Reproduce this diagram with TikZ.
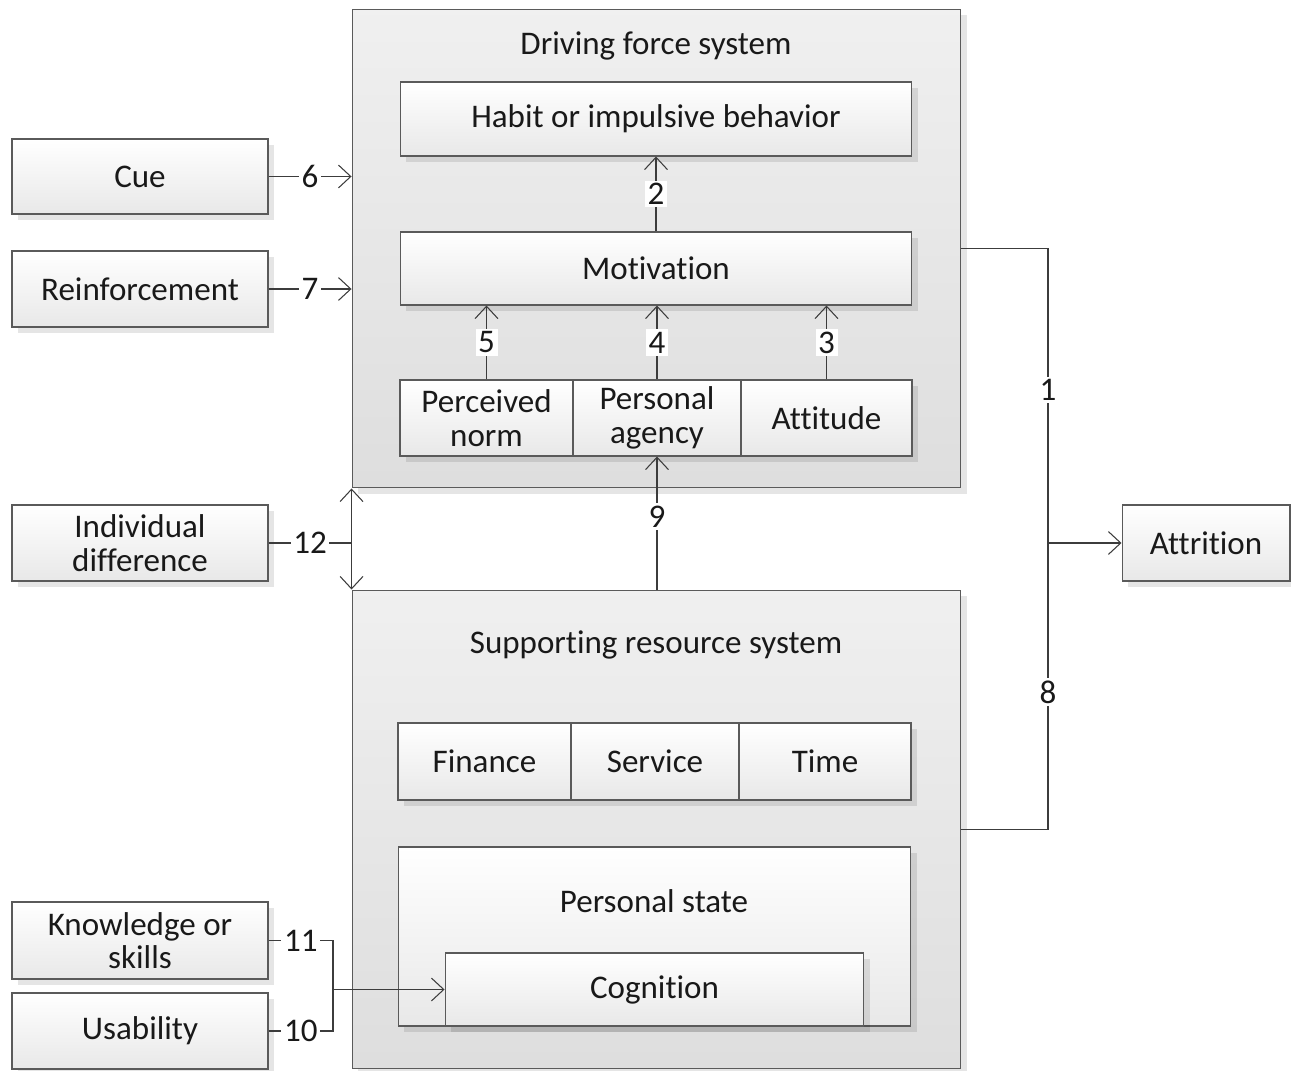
\documentclass[tikz,border=0pt]{standalone}
\usepackage{fontspec}
\setmainfont{Carlito}[Ligatures=NoCommon]
\usetikzlibrary{arrows.meta,shadows}
\definecolor{edgec}{HTML}{5A5A5A}
\definecolor{linec}{HTML}{3C3C3C}
\tikzset{
  base/.style={draw=edgec, line width=0.6pt, inner sep=0pt, align=center, text=black!90,
    font=\fontsize{18.8}{19}\selectfont,
    drop shadow={shadow xshift=3.4pt, shadow yshift=-3.4pt, fill=black, opacity=.1}},
  box/.style={base, top color=white, bottom color=black!9},
  sysbox/.style={base, top color=black!6, bottom color=black!13},
  title/.style={inner sep=0pt, text=black!90, font=\fontsize{18.8}{19}\selectfont},
  conn/.style={draw=linec, line width=0.6pt},
  arr/.style={conn, -{Straight Barb[length=7pt,width=13pt]}},
  darr/.style={conn, {Straight Barb[length=7pt,width=13pt]}-{Straight Barb[length=7pt,width=13pt]}},
  num/.style={fill=white, inner sep=1.5pt, text=black!90, font=\fontsize{18.8}{19}\selectfont}
}
\begin{document}
\begin{tikzpicture}[x=0.02cm, y=-0.02cm]
  \useasboundingbox (0,0) rectangle (1291,1071);

  % the two systems
  \node[sysbox, minimum width=12.18cm, minimum height=9.58cm] (df) at (656.5,248.5) {};
  \node[title] at (656,46) {Driving force system};
  \node[sysbox, minimum width=12.18cm, minimum height=9.58cm] (sr) at (656.5,829.5) {};
  \node[title] at (656,645) {Supporting resource system};

  % driving force system
  \node[box, minimum width=10.24cm, minimum height=1.48cm] (habit) at (656,119) {Habit or impulsive behavior};
  \node[box, minimum width=10.24cm, minimum height=1.46cm] (motiv) at (656,268.5) {Motivation};
  \node[box, minimum width=3.46cm, minimum height=1.52cm] (pnorm) at (486.5,418) {Perceived\\norm};
  \node[box, minimum width=3.36cm, minimum height=1.52cm] (agency) at (657,418) {Personal\\agency};
  \node[box, minimum width=3.42cm, minimum height=1.52cm] (attit) at (826.5,418) {Attitude};

  % supporting resource system
  \node[box, minimum width=3.46cm, minimum height=1.54cm] (finance) at (484.5,761.5) {Finance};
  \node[box, minimum width=3.36cm, minimum height=1.54cm] (service) at (655,761.5) {Service};
  \node[box, minimum width=3.44cm, minimum height=1.54cm] (time) at (825,761.5) {Time};
  \node[box, minimum width=10.26cm, minimum height=3.58cm] (pstate) at (654.5,936.5) {};
  \node[title] at (654,901) {Personal state};
  \node[box, minimum width=8.38cm, minimum height=1.46cm] (cogn) at (654.5,989.5) {Cognition};

  % outer factors
  \node[box, minimum width=5.12cm, minimum height=1.5cm] (cue) at (140,176.5) {Cue};
  \node[box, minimum width=5.12cm, minimum height=1.52cm] (reinf) at (140,289) {Reinforcement};
  \node[box, minimum width=5.12cm, minimum height=1.52cm] (indiv) at (140,543) {Individual\\difference};
  \node[box, minimum width=5.12cm, minimum height=1.54cm] (know) at (140,940.5) {Knowledge or\\skills};
  \node[box, minimum width=5.12cm, minimum height=1.52cm] (usab) at (140,1031) {Usability};
  \node[box, minimum width=3.36cm, minimum height=1.52cm] (attr) at (1206,543) {Attrition};

  \coordinate (jr) at (1048,543);
  \coordinate (jl) at (333,989.5);

  % connectors
  \draw[arr] (motiv) -- node[num]{2} (habit);
  \draw[arr] (pnorm) -- node[num]{5} (pnorm |- motiv.south);
  \draw[arr] (agency) -- node[num]{4} (agency |- motiv.south);
  \draw[arr] (attit) -- node[num]{3} (attit |- motiv.south);
  \draw[arr] (agency.south |- sr.north) -- node[num, pos=.55]{9} (agency.south);
  \draw[arr] (cue) -- node[num]{6} (cue -| df.west);
  \draw[arr] (reinf) -- node[num]{7} (reinf -| df.west);
  \draw[conn] (indiv) -- node[num]{12} (indiv -| df.west);
  \draw[darr] (df.south west) -- (sr.north west);
  \draw[conn] (df.east) -| node[num, pos=.74]{1} (jr);
  \draw[conn] (sr.east) -| node[num, pos=.74]{8} (jr);
  \draw[arr] (jr) -- (attr);
  \draw[conn] (know) -- node[num]{11} (know -| jl) -- (usab -| jl) -- node[num]{10} (usab);
  \draw[arr] (jl) -- (cogn);
\end{tikzpicture}
\end{document}
